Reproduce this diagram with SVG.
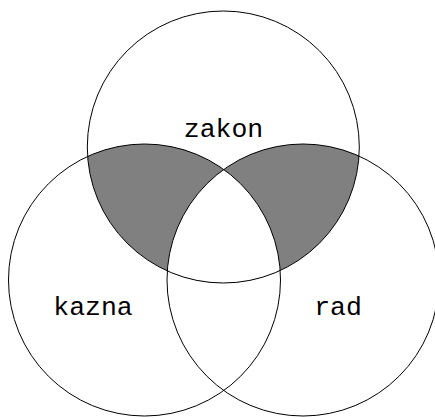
<svg xmlns="http://www.w3.org/2000/svg" width="435" height="418" viewBox="0 0 435 418">
<style>
.ring{fill:none;stroke:#000;stroke-width:1}
.lbl{font-family:"Liberation Mono","DejaVu Sans Mono",monospace;font-size:26.5px;fill:#000;text-anchor:middle}
.shade{fill:#808080;stroke:none}
</style>
<defs>
<clipPath id="clipTop"><circle cx="223.3" cy="147" r="136"/></clipPath>
<clipPath id="clipLeft"><circle cx="144.5" cy="280" r="136"/></clipPath>
</defs>
<rect width="435" height="418" fill="#fff"/>
<g id="shading">
<g clip-path="url(#clipTop)">
<circle class="shade" cx="144.5" cy="280" r="136"/>
<circle class="shade" cx="303" cy="280" r="136"/>
<g clip-path="url(#clipLeft)"><circle cx="303" cy="280" r="136" fill="#fff"/></g>
</g>
</g>
<g id="zakon">
<circle class="ring" cx="223.3" cy="147" r="136"/>
<text class="lbl" x="223.5" y="137">zakon</text>
</g>
<g id="kazna">
<circle class="ring" cx="144.5" cy="280" r="136"/>
<text class="lbl" x="93" y="315">kazna</text>
</g>
<g id="rad">
<circle class="ring" cx="303" cy="280" r="136"/>
<text class="lbl" x="338" y="315">rad</text>
</g>
</svg>
